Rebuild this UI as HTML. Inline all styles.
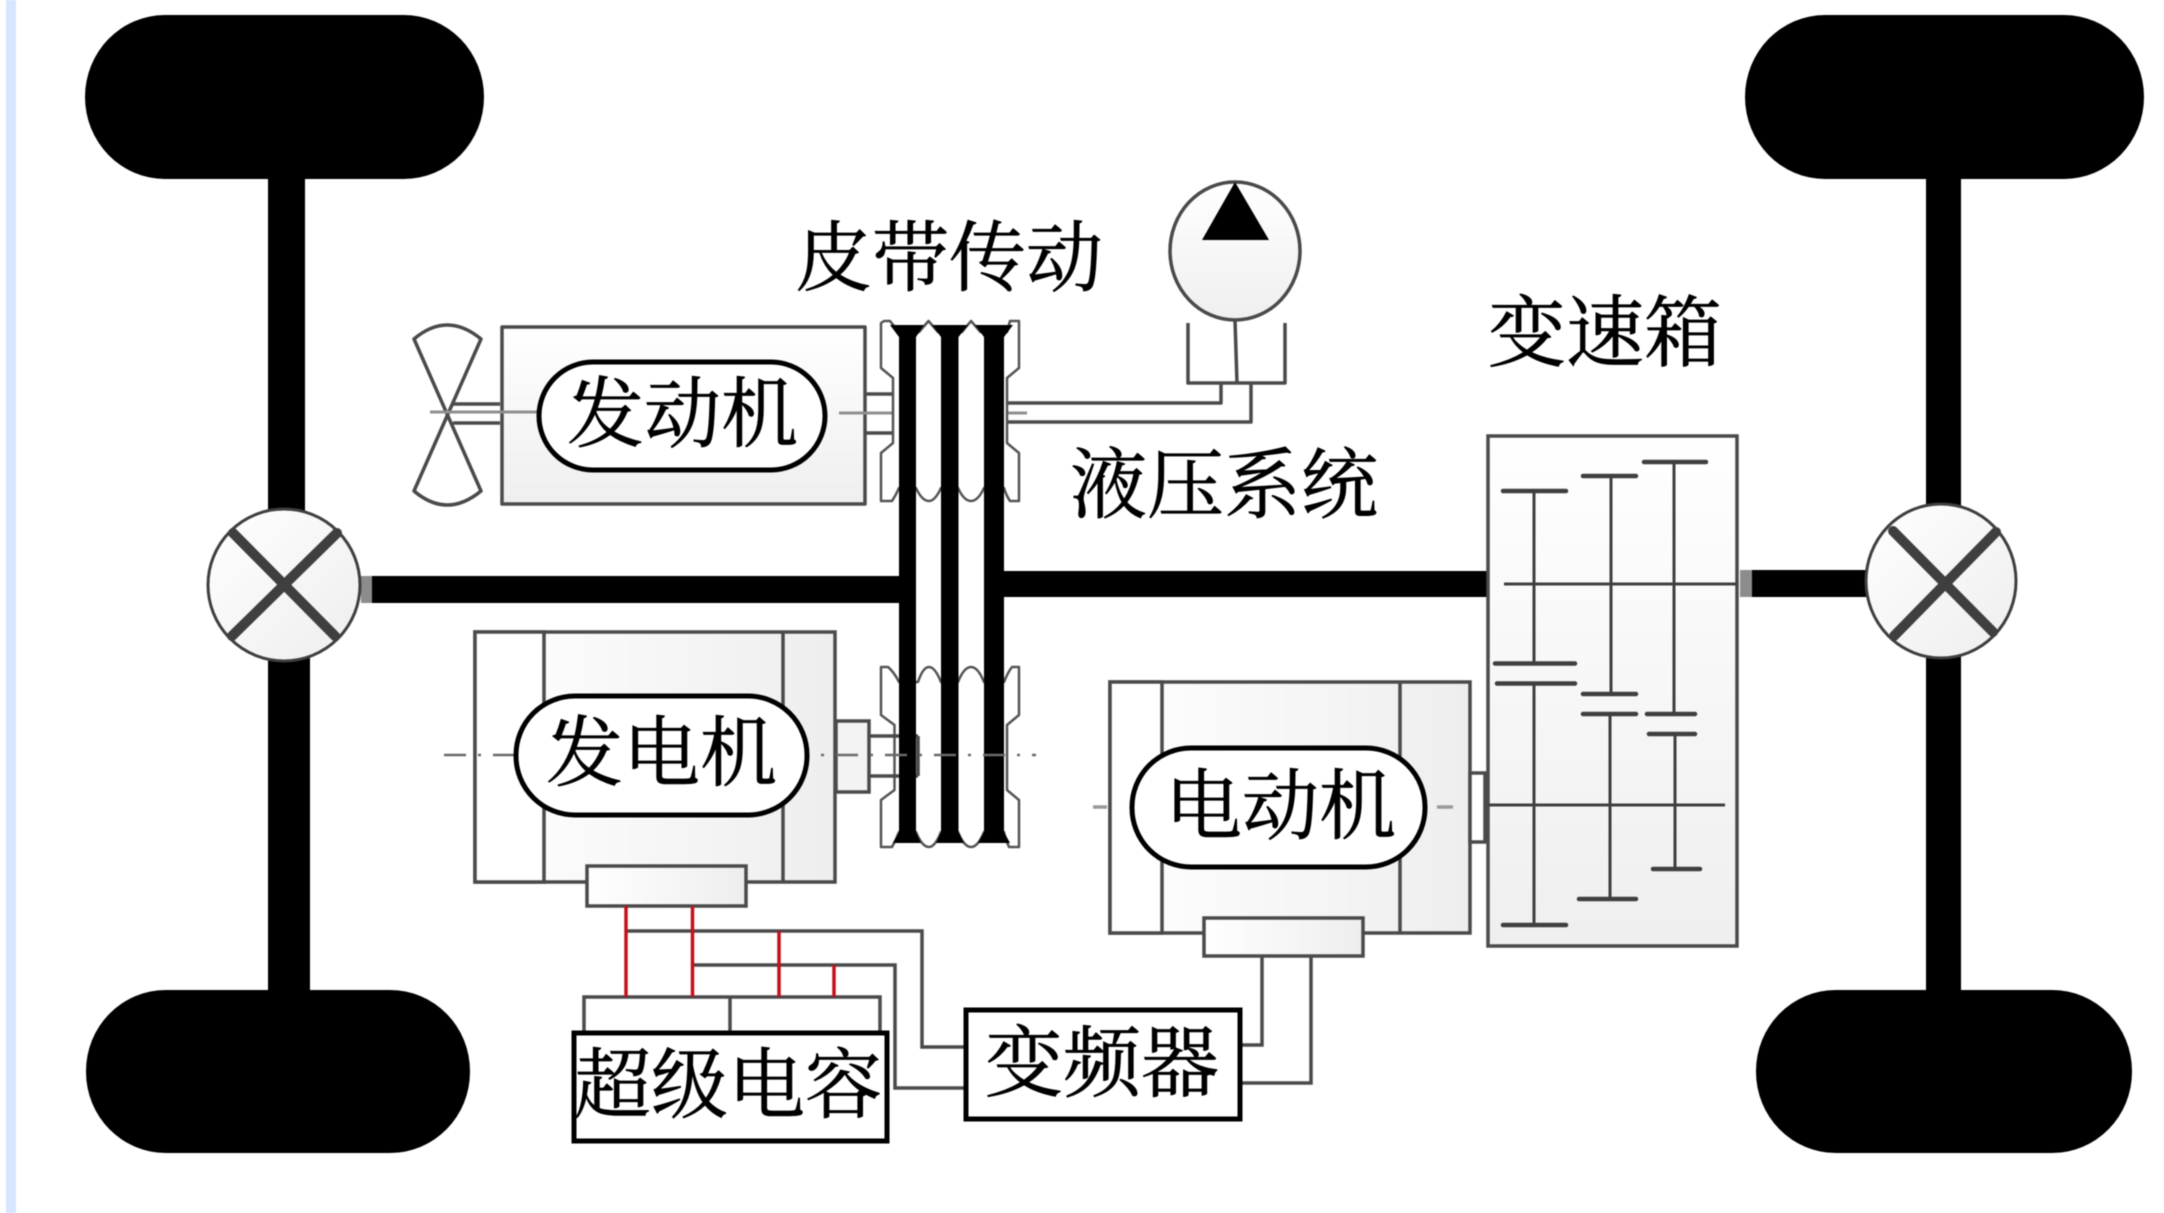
<!DOCTYPE html>
<html lang="zh">
<head>
<meta charset="utf-8">
<title>Hybrid powertrain diagram</title>
<style>
html,body{margin:0;padding:0;background:#fff;width:2164px;height:1213px;overflow:hidden}
svg{display:block;filter:blur(.6px)}
text{font-family:"Liberation Serif","Noto Serif CJK SC",serif;font-size:77px;fill:#000;stroke:#000;stroke-width:.7px}
</style>
</head>
<body>
<svg xmlns="http://www.w3.org/2000/svg" width="2164" height="1213" viewBox="0 0 2164 1213">
<defs>
<linearGradient id="v" x1="0" y1="0" x2="0" y2="1"><stop offset="0" stop-color="#fff"/><stop offset="1" stop-color="#efefef"/></linearGradient>
<linearGradient id="h" x1="0" y1="0" x2="1" y2="0"><stop offset="0" stop-color="#fff"/><stop offset="1" stop-color="#eeeeee"/></linearGradient>
<linearGradient id="d" x1="0" y1="0" x2="1" y2="1"><stop offset="0" stop-color="#fff"/><stop offset="1" stop-color="#eeeeee"/></linearGradient>
</defs>
<rect width="2164" height="1213" fill="#fff"/>
<rect x="6" y="0" width="10" height="1213" fill="#d6e6ff"/>

<!-- wheels -->
<rect x="85" y="15" width="399" height="164" rx="80" ry="82" fill="#000"/>
<rect x="1745" y="15" width="399" height="164" rx="80" ry="82" fill="#000"/>
<rect x="86" y="990" width="384" height="163" rx="80" ry="81" fill="#000"/>
<rect x="1756" y="990" width="376" height="163" rx="80" ry="81" fill="#000"/>

<!-- axles -->
<rect x="268" y="172" width="37" height="340" fill="#000"/>
<rect x="268" y="655" width="42" height="340" fill="#000"/>
<rect x="1926" y="172" width="35" height="335" fill="#000"/>
<rect x="1926" y="653" width="35" height="340" fill="#000"/>

<!-- main shaft -->
<rect x="372" y="576" width="530" height="27" fill="#000"/>
<rect x="361" y="576" width="11" height="27" fill="#8c8c8c"/>
<rect x="1000" y="571" width="490" height="26" fill="#000"/>
<rect x="1752" y="570" width="117" height="27" fill="#000"/>
<rect x="1740" y="570" width="12" height="27" fill="#8c8c8c"/>

<!-- differentials -->
<ellipse cx="284" cy="585" rx="76" ry="76" fill="url(#d)" stroke="#3f3f3f" stroke-width="3"/>
<path d="M233 533L335 636M337 533L232 636" stroke="#3f3f3f" stroke-width="10" stroke-linecap="round" fill="none"/>
<ellipse cx="1941" cy="581" rx="75" ry="77" fill="url(#d)" stroke="#3f3f3f" stroke-width="3"/>
<path d="M1893 531L1993 632M1996 532L1894 636" stroke="#3f3f3f" stroke-width="10" stroke-linecap="round" fill="none"/>

<g fill="none" stroke="#4a4a4a" stroke-width="3.5" stroke-linejoin="round">
<!-- fan -->
<path d="M414 339Q447 311 481 339L414 491Q447 519 481 491Z" fill="#fff"/>
<path d="M453 404H500M453 423H500"/>

<!-- engine -->
<rect x="502" y="327" width="363" height="177" fill="url(#v)"/>
<path d="M866 394H896M866 433H896"/>
<!-- connectors to pump -->
<path d="M1007 403H1221V383M1007 422H1251V383"/>
<!-- pump -->
<path d="M1188 323V383H1285V323M1235 320L1237 383"/>
<ellipse cx="1235" cy="251" rx="65" ry="69" fill="url(#v)"/>
</g>
<path d="M1235 182L1269 240H1202Z" fill="#000"/>
<path d="M430 412H540M839 413H1027" stroke="#8f8f8f" stroke-width="3" fill="none"/>

<!-- pulleys -->
<g fill="#fff" stroke="#555" stroke-width="2.5" stroke-linejoin="round">
<path d="M881 323L884 321H890L899 332H919L928.5 321L938 332H962L971 321L980.5 332H1007L1010 321H1019V368L1007 378V443L1019 453V501H1010Q1006 495 1004 488H984Q978 501 971 501Q964 501 958 488H941Q935 501 929 501Q922 501 916 488H899Q896 495 892 501H881V453L893 443V378L881 368Z"/>
<path d="M881 667H888Q894 672 899 682H918Q923 667 929 667Q935 667 941 682H958Q964 667 971 667Q978 667 984 682H1004Q1008 672 1012 667H1019V715L1007 725V790L1019 800V847H1009Q1005 838 1004 832H984Q978 847 971 847Q964 847 958 832H941Q935 847 929 847Q922 847 916 832H899Q896 840 892 847H881V800L894.5 790V725L881 715Z"/>
</g>

<!-- generator -->
<g fill="none" stroke="#4a4a4a" stroke-width="3.5">
<rect x="475" y="632" width="360" height="250" fill="url(#h)"/>
<rect x="475" y="632" width="69" height="250" fill="#fff"/>
<path d="M783 632V882"/>
<rect x="836" y="721" width="33" height="71" fill="#f3f3f3"/>
<path d="M869 736H918M869 776H918M918 736V776"/>

<!-- motor -->
<rect x="1110" y="682" width="360" height="251" fill="url(#h)"/>
<rect x="1110" y="682" width="52" height="251" fill="#fff"/>
<path d="M1400 682V933"/>
<rect x="1470" y="773" width="15" height="69" fill="#fff"/>

<!-- gearbox -->
<rect x="1488" y="436" width="249" height="510" fill="url(#v)"/>
</g>

<!-- belts -->
<g fill="#000">
<path d="M890 325H924L916 337V832L921 843H893L899 832V337Z"/>
<path d="M932 325H968L958.5 337V832L964 843H936L941 832V337Z"/>
<path d="M975 325H1013L1004 337V832L1010 843H978L984 832V337Z"/>
</g>

<!-- generator/motor centre lines -->
<path d="M444 755H1036" stroke="#6a6a6a" stroke-width="2.5" stroke-dasharray="22 12 3 12" fill="none"/>
<path d="M1093 807H1107M1437 807H1453" stroke="#9a9a9a" stroke-width="3.5" fill="none"/>

<g fill="none" stroke="#4a4a4a" stroke-width="3.5">
<rect x="587" y="866" width="159" height="40" fill="url(#h)"/>
<rect x="1204" y="918" width="159" height="38" fill="url(#h)"/>
<!-- wires -->
<path d="M626 931H922V1047H965M692 965H895V1088H965"/>
<path d="M1262 956V1045H1241M1311 956V1083H1241"/>
<!-- supercap cells -->
<path d="M584 1033V997H880V1033M730 997V1033"/>
</g>
<path d="M626 906V997M692.5 906V997M779 931V997M834 965V997" stroke="#c5101c" stroke-width="3.5" fill="none"/>

<!-- gears -->
<g fill="none" stroke="#3f3f3f" stroke-width="3">
<path d="M1504 584H1737M1488 805H1725"/>
<path d="M1534 491V664M1534 684V925M1611 476V694M1610 714V899M1674 462V714M1675 734V869"/>
</g>
<g fill="none" stroke="#3f3f3f" stroke-width="4.5" stroke-linecap="round">
<path d="M1503 491H1566M1495 663.5H1575M1497 683.5H1575M1503 925H1566"/>
<path d="M1583 476H1636M1583 694H1636M1583 714H1636M1579 899H1636"/>
<path d="M1644 462H1706M1647 714H1695M1649 734H1695M1653 869H1700"/>
</g>

<!-- pills and boxes -->
<g fill="#fff" stroke="#000" stroke-width="5">
<rect x="539" y="362" width="286" height="108" rx="54"/>
<rect x="516" y="696" width="291" height="119" rx="59"/>
<rect x="1132" y="748" width="293" height="119" rx="59"/>
<rect x="574" y="1033" width="313" height="108"/>
<rect x="966" y="1010" width="274" height="109"/>
</g>

<!-- labels -->
<text x="567" y="441">发动机</text>
<text x="546" y="780">发电机</text>
<text x="1165" y="833">电动机</text>
<text x="574" y="1112">超级电容</text>
<text x="985" y="1090" style="font-size:78px">变频器</text>
<text x="795" y="285">皮带传动</text>
<text x="1070" y="512">液压系统</text>
<text x="1488" y="360" style="font-size:78px">变速箱</text>
</svg>
</body>
</html>
